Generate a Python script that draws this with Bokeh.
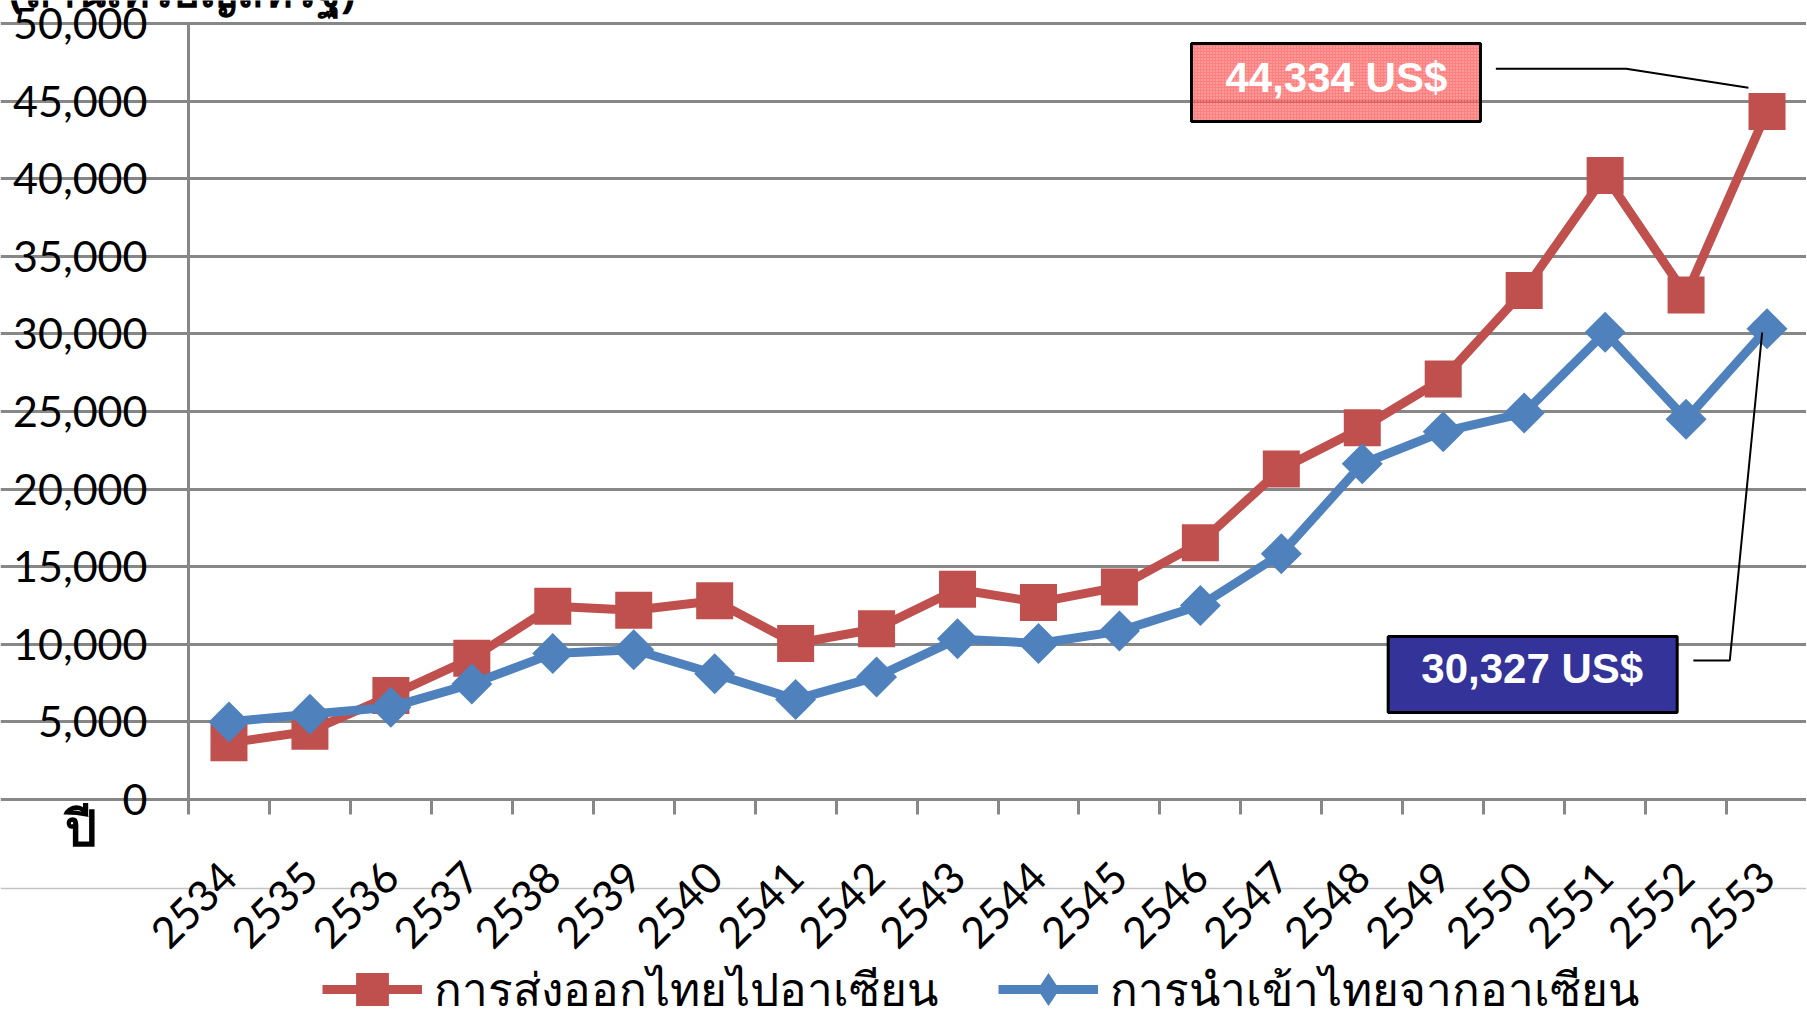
import math
from bokeh.plotting import figure
from bokeh.models import (FixedTicker, NumeralTickFormatter, Legend, LegendItem,
                          BoxAnnotation, Label, Span, CustomJSTickFormatter)
from bokeh.embed import file_html
from bokeh.resources import INLINE

# ---------------- data ----------------
years = ["2534", "2535", "2536", "2537", "2538", "2539", "2540", "2541", "2542", "2543",
         "2544", "2545", "2546", "2547", "2548", "2549", "2550", "2551", "2552", "2553"]
exports = [3650, 4400, 6700, 9100, 12450, 12200, 12800, 10050, 11000, 13550,
           12700, 13700, 16550, 21300, 23950, 27100, 32800, 40200, 32500, 44334]
imports = [5000, 5500, 5950, 7450, 9400, 9650, 8100, 6450, 7900, 10350,
           10050, 10850, 12500, 15830, 21630, 23700, 24900, 30100, 24500, 30327]
y_ticks = [0, 5000, 10000, 15000, 20000, 25000, 30000, 35000, 40000, 45000, 50000]
export_label = "การส่งออกไทยไปอาเซียน"
import_label = "การนำเข้าไทยจากอาเซียน"
unit_title = "(ล้านเหรียญสหรัฐ)"
year_title = "ปี"
export_callout = "44,334 US$"
import_callout = "30,327 US$"

RED = "#C0504D"
BLUE = "#4F81BD"
GRID = "#878787"

# ---------------- geometry (pixels) ----------------
W, H = 1806, 1015
AXIS_X, AXIS_Y, TOP_Y = 188, 799, 23          # plot-area corners on the canvas
PX_CAT = 80.95                                 # px per category
PX_VAL = (AXIS_Y - TOP_Y) / 50000              # px per unit value

x_lo = -AXIS_X / PX_CAT
x_hi = (W - AXIS_X) / PX_CAT
y_hi = 50000 + TOP_Y / PX_VAL
y_lo = -(H - AXIS_Y) / PX_VAL

xs = [i + 0.5 for i in range(len(years))]
n = len(years)

p = figure(width=W, height=H, x_range=(x_lo, x_hi), y_range=(y_lo, y_hi),
           output_backend="svg", toolbar_location=None,
           min_border_left=0, min_border_right=0, min_border_top=0, min_border_bottom=0)
p.outline_line_color = None
p.background_fill_color = "white"
p.border_fill_color = "white"
p.xgrid.visible = False
p.ygrid.grid_line_color = GRID
p.ygrid.grid_line_width = 3
p.ygrid.ticker = FixedTicker(ticks=y_ticks)
p.ygrid.bounds = (0, n)

# y axis (drawn at x = 0 inside the canvas)
p.yaxis.fixed_location = 0
p.yaxis.bounds = (0, 50000)
p.yaxis.ticker = FixedTicker(ticks=y_ticks)
p.yaxis.formatter = NumeralTickFormatter(format="0,0")
p.yaxis.axis_line_color = GRID
p.yaxis.axis_line_width = 3
p.yaxis.major_tick_line_color = GRID
p.yaxis.major_tick_line_width = 3
p.yaxis.major_tick_out = 13
p.yaxis.major_tick_in = 0
p.yaxis.minor_tick_line_color = None
p.yaxis.major_label_text_font = "Lato"
p.yaxis.major_label_text_font_size = "43px"
p.yaxis.major_label_text_color = "black"
p.yaxis.major_label_standoff = 28

# x axis (drawn at y = 0)
p.xaxis.fixed_location = 0
p.xaxis.bounds = (0, n)
p.xaxis.ticker = FixedTicker(ticks=xs, minor_ticks=list(range(n + 1)))
p.xaxis.formatter = CustomJSTickFormatter(args=dict(years=years),
                                          code="return years[Math.floor(tick)];")
p.xaxis.axis_line_color = GRID
p.xaxis.axis_line_width = 3
p.xaxis.major_tick_line_color = None
p.xaxis.minor_tick_line_color = GRID
p.xaxis.minor_tick_line_width = 3
p.xaxis.minor_tick_out = 15
p.xaxis.minor_tick_in = 0
p.xaxis.major_label_orientation = math.pi / 4
p.xaxis.major_label_text_font = "Lato"
p.xaxis.major_label_text_font_size = "43px"
p.xaxis.major_label_text_color = "black"
p.xaxis.major_label_standoff = 55

# slide separator line
p.add_layout(Span(location=-(888 - AXIS_Y) / PX_VAL, dimension="width",
                  line_color="#C4C4C4", line_width=1.5, level="underlay"))

# series
r_line_exp = p.line(xs, exports, line_width=9, line_color=RED)
r_sq = p.scatter(xs, exports, marker="square", size=37, fill_color=RED, line_color=None)
r_line_imp = p.line(xs, imports, line_width=9, line_color=BLUE)
p.scatter(xs, imports, marker="square", angle=math.pi / 4, size=29,
          fill_color=BLUE, line_color=None)

# legend-only diamond marker (single point kept outside the visible area)
leg_dm = p.scatter([x_lo - 50], [0], marker="diamond", fill_color=BLUE, line_color=None)

legend = Legend(items=[LegendItem(label=export_label, renderers=[r_line_exp, r_sq]),
                       LegendItem(label=import_label, renderers=[r_line_imp, leg_dm])],
                orientation="horizontal", location=(322, H - 1030),
                glyph_width=100, glyph_height=82, label_standoff=12, spacing=60,
                padding=0, margin=0, border_line_color=None, background_fill_alpha=0,
                label_text_font="Noto Sans", label_text_font_size="46px",
                label_text_color="black")
p.add_layout(legend)

# callout boxes
p.add_layout(BoxAnnotation(left=12.39, right=15.96, top=48711, bottom=43686,
                           fill_color="#FF4C4C", fill_alpha=0.72,
                           hatch_pattern=".", hatch_color="white", hatch_alpha=0.55,
                           hatch_scale=3, hatch_weight=1,
                           line_color="black", line_alpha=1, line_width=3))
p.add_layout(BoxAnnotation(left=14.82, right=18.39, top=10503, bottom=5606,
                           fill_color="#333399", fill_alpha=1,
                           line_color="black", line_alpha=1, line_width=3))
p.line([14.87, 18.34], [5930, 5930], line_color="white", line_width=1.5)

p.add_layout(Label(x=14.18, y=46521, text=export_callout, text_align="center",
                   text_baseline="middle", text_font="Liberation Sans",
                   text_font_style="bold", text_font_size="42px", text_color="white"))
p.add_layout(Label(x=16.60, y=8441, text=import_callout, text_align="center",
                   text_baseline="middle", text_font="Liberation Sans",
                   text_font_style="bold", text_font_size="42px", text_color="white"))

# connectors
p.line([16.15, 17.76, 19.27], [47081, 47081, 45857], line_color="black", line_width=2)
p.line([18.59, 19.04, 19.44], [8956, 8956, 30090], line_color="black", line_width=2)

# axis titles (the unit title sits mostly above the top edge, as in the source)
p.add_layout(Label(x=-2.22, y=52160, text=unit_title, text_align="left",
                   text_baseline="alphabetic", text_font="Noto Sans",
                   text_font_style="bold", text_font_size="44px", text_color="black"))
p.add_layout(Label(x=-1.52, y=-1750, text=year_title, text_align="left",
                   text_baseline="alphabetic", text_font="Noto Sans",
                   text_font_style="bold", text_font_size="50px", text_color="black"))

open("out.html", "w").write(file_html(p, INLINE))
